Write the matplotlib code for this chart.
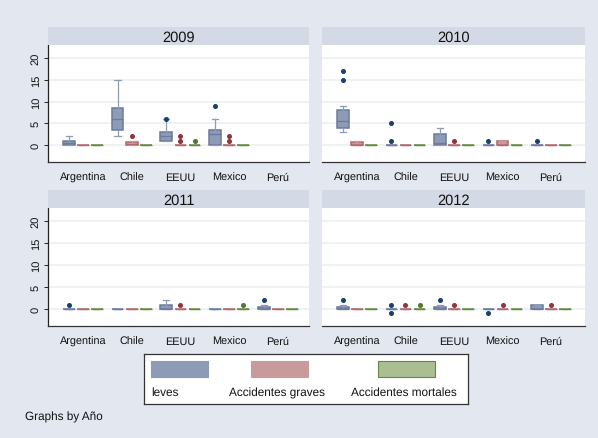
import matplotlib
matplotlib.use("Agg")
import matplotlib.pyplot as plt
from matplotlib.patches import Rectangle

plt.rcParams['font.family'] = ['Liberation Sans', 'DejaVu Sans']
plt.rcParams['text.hinting'] = 'no_hinting'

# categories and series
years = ["2009", "2010", "2011", "2012"]
countries = ["Argentina", "Chile", "EEUU", "Mexico", "Perú"]
series = ["leves", "Accidentes graves", "Accidentes mortales"]

# box stats per year -> country -> series: (whislo, q1, med, q3, whishi, outliers)
# None = no data
Z = (0, 0, 0, 0, 0, [])
stats_2009 = {
    "Argentina": [(0, 0, 0.5, 1, 2, []), Z, Z],
    "Chile": [(2, 3.5, 6, 8.5, 15, []), (0, 0, 0.3, 0.7, 1, [2]), Z],
    "EEUU": [(1, 1, 2, 3, 6, [6]), (0, 0, 0, 0, 0, [1, 2]), (0, 0, 0, 0, 0, [1])],
    "Mexico": [(0, 0, 2.5, 3.5, 6, [9]), (0, 0, 0, 0, 0, [1, 2]), Z],
    "Perú": [None, None, None],
}
stats_2010 = {
    "Argentina": [(3, 4, 5.5, 8, 9, [15, 17]), (0, 0, 0, 0.75, 1, []), Z],
    "Chile": [(0, 0, 0, 0, 0, [1, 5]), Z, Z],
    "EEUU": [(0, 0, 0.4, 2.5, 4, []), (0, 0, 0, 0, 0, [1]), Z],
    "Mexico": [(0, 0, 0, 0, 0, [1]), (0, 0, 0, 1, 1, []), Z],
    "Perú": [(0, 0, 0, 0, 0, [1]), Z, Z],
}
stats_2011 = {
    "Argentina": [(0, 0, 0, 0, 0, [1]), Z, Z],
    "Chile": [Z, Z, Z],
    "EEUU": [(0, 0, 0, 1, 2, []), (0, 0, 0, 0, 0, [1]), Z],
    "Mexico": [Z, Z, (0, 0, 0, 0, 0, [1])],
    "Perú": [(0, 0, 0, 0.5, 1, [2]), Z, Z],
}
stats_2012 = {
    "Argentina": [(0, 0, 0, 0.5, 1, [2]), Z, Z],
    "Chile": [(0, 0, 0, 0, 0, [1, -1]), (0, 0, 0, 0, 0, [1]), (0, 0, 0, 0, 0, [1])],
    "EEUU": [(0, 0, 0, 0.5, 1, [2]), (0, 0, 0, 0, 0, [1]), Z],
    "Mexico": [(0, 0, 0, 0, 0, [-1]), (0, 0, 0, 0, 0, [1]), Z],
    "Perú": [(0, 0, 0, 1, 1, []), (0, 0, 0, 0, 0, [1]), Z],
}
all_stats = [stats_2009, stats_2010, stats_2011, stats_2012]

yticks = [0, 5, 10, 15, 20]

# colours (fill, edge, marker)
fills = ["#8e9bb6", "#c99a9c", "#aabd93"]
edges = ["#6b7b9c", "#b3666c", "#5f8a3c"]
marks = ["#1a3f6f", "#90353b", "#55752f"]

BG = "#e2e7f0"
STRIP = "#d3d9e5"
GRID = "#e9edf4"

W, H = 598, 439
fig = plt.figure(figsize=(W / 100, H / 100), dpi=100, facecolor=BG)


def px_axes(x0, y0, x1, y1):
    # pixel box (top-left origin) -> figure axes
    return fig.add_axes([x0 / W, 1 - y1 / H, (x1 - x0) / W, (y1 - y0) / H])


panels = [(48, 46, 309, 163), (322, 46, 585, 163),
          (48, 209, 309, 327), (322, 209, 585, 327)]
offsets = [-0.29, 0.0, 0.29]

for i, (year, st, box) in enumerate(zip(years, all_stats, panels)):
    x0, y0, x1, y1 = box
    ax = px_axes(x0, y0, x1, y1)
    ax.set_facecolor("white")
    # title strip
    sax = px_axes(x0, y0 - 18, x1, y0)
    sax.set_facecolor(STRIP)
    sax.set_xticks([])
    sax.set_yticks([])
    for s in sax.spines.values():
        s.set_visible(False)
    sax.text(0.5, 0.47, year, ha="center", va="center", fontsize=10.5, color="#111111")

    for yt in yticks:
        ax.axhline(yt, color=GRID, lw=1.1, zorder=0)

    for j, ser in enumerate(series):
        bstats = []
        pos = []
        for k, c in enumerate(countries):
            s = st[c][j]
            if s is None:
                continue
            lo, q1, med, q3, hi, fl = s
            bstats.append(dict(whislo=lo, q1=q1, med=med, q3=q3, whishi=hi, fliers=fl))
            pos.append(k + 1 + offsets[j])
        if not bstats:
            continue
        ax.bxp(bstats, positions=pos, widths=0.24, capwidths=0.13, patch_artist=True,
               boxprops=dict(facecolor=fills[j], edgecolor=edges[j], lw=1.1),
               medianprops=dict(color=edges[j], lw=0.9),
               whiskerprops=dict(color=fills[j], lw=0.9),
               capprops=dict(color=fills[j], lw=0.9),
               flierprops=dict(marker="o", markersize=2.6, markerfacecolor=marks[j],
                               markeredgecolor=marks[j]),
               zorder=3)

    ax.set_xlim(0.28, 5.64 if i % 2 == 0 else 5.7)
    ax.set_ylim(-3.9, 23)
    ax.set_xticks(range(1, 6))
    ax.set_xticklabels(countries, fontsize=7.8, color="#111111")
    ax.tick_params(axis="x", length=0, pad=7)
    for s in ["top", "right"]:
        ax.spines[s].set_visible(False)
    ax.spines["bottom"].set_color("#333333")
    ax.spines["bottom"].set_linewidth(0.9)
    if i % 2 == 0:
        ax.spines["left"].set_color("#222222")
        ax.spines["left"].set_linewidth(0.9)
        ax.set_yticks(yticks)
        ax.set_yticklabels([str(v) for v in yticks], fontsize=8, rotation=90,
                           va="center", color="#111111")
        ax.tick_params(axis="y", length=3, width=0.7, pad=2, color="#222222")
    else:
        ax.spines["left"].set_visible(False)
        ax.set_yticks(yticks)
        ax.set_yticklabels([])
        ax.tick_params(axis="y", length=0)

# legend box
lax = px_axes(144, 355, 468, 405)
lax.set_xlim(0, 324)
lax.set_ylim(50, 0)
lax.set_facecolor("white")
lax.set_xticks([])
lax.set_yticks([])
for s in lax.spines.values():
    s.set_color("#333333")
    s.set_linewidth(0.9)
sw_x = [7, 107, 234]
txt_x = [7, 85, 207]
leg_edges = [fills[0], fills[1], edges[2]]
for j, ser in enumerate(series):
    lax.add_patch(Rectangle((sw_x[j], 7), 57, 16, facecolor=fills[j],
                            edgecolor=leg_edges[j], lw=0.8))
    lax.text(txt_x[j], 38, ser, fontsize=8.5, va="center", ha="left", color="#111111")

fig.text(25 / W, 1 - 417 / H, "Graphs by Año", fontsize=8.5, va="center", ha="left",
         color="#111111")

fig.savefig("out.png", dpi=100, facecolor=BG)
